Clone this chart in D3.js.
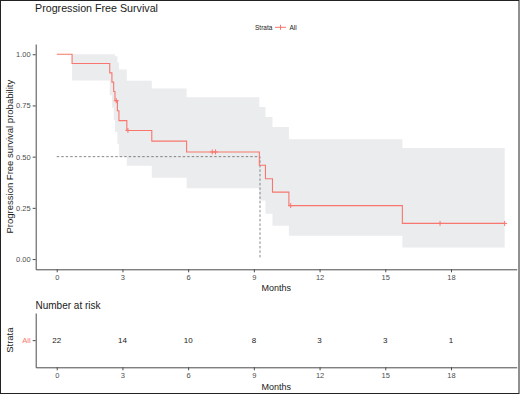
<!DOCTYPE html>
<html>
<head>
<meta charset="utf-8">
<script src="https://cdn.jsdelivr.net/npm/d3@7"></script>
<style>
  body { margin: 0; background: #fff; }
  svg text { font-family: "Liberation Sans", Arial, sans-serif; }
</style>
</head>
<body>
<div class="figure"></div>
<script>
// Kaplan-Meier steps (time in months)
const stepTimes = [0, 0.7, 2.42, 2.52, 2.60, 2.66, 2.77, 2.84, 3.20, 4.34, 5.93, 9.25, 9.53, 9.85, 10.6, 15.78, 20.45]
const stepSurv  = [1, 0.955, 0.909, 0.864, 0.818, 0.773, 0.724, 0.676, 0.628, 0.576, 0.523, 0.458, 0.392, 0.327, 0.261, 0.174, 0.174]
const stepUpper = [1, 1, 1, 1, 1, 0.99, 0.96, 0.925, 0.87, 0.833, 0.79, 0.743, 0.694, 0.645, 0.585, 0.542, 0.542]
const stepLower = [1, 0.872, 0.80, 0.74, 0.68, 0.62, 0.56, 0.50, 0.455, 0.397, 0.346, 0.286, 0.221, 0.163, 0.114, 0.057, 0.057]
const censorTimes = [2.72, 3.25, 7.1, 7.25, 10.68, 17.5, 20.45]
const medianTime = 9.28

const riskTimes = [0, 3, 6, 9, 12, 15, 18]
const riskCounts = [22, 14, 10, 8, 3, 3, 1]
const strata = ["All"]

const xTicks = [0, 3, 6, 9, 12, 15, 18]
const yTicks = [0, 0.25, 0.5, 0.75, 1]

const width = 521
const height = 395
const red = "#F8766D"
const axisColor = "#4a4a4a"
const tickText = "#4D4D4D"

const svg = d3.select(".figure").append("svg")
    .attr("width", width)
    .attr("height", height)

svg.append("rect")
    .attr("x", 0.5).attr("y", 0.5)
    .attr("width", 518.5).attr("height", 393)
    .attr("fill", "#fff")
    .attr("stroke", "#222")
    .attr("stroke-width", 1)

let x = d3.scaleLinear().domain([-0.96, 21]).range([35.7, 516.7])
let y = d3.scaleLinear().domain([-0.05, 1.05]).range([269.3, 44])

let steps = stepTimes.map((t, i) => ({t: t, s: stepSurv[i], up: stepUpper[i], lo: stepLower[i]}))

// title
svg.append("text")
    .attr("x", 35).attr("y", 11.7)
    .style("font-size", "10.7px")
    .attr("fill", "#1a1a1a")
    .text("Progression Free Survival")

// legend
let legend = svg.append("g").style("font-size", "6.5px").attr("fill", "#1a1a1a")
legend.append("text").attr("x", 255).attr("y", 29.6).text("Strata")
legend.append("line").attr("x1", 275).attr("x2", 286).attr("y1", 27.3).attr("y2", 27.3)
    .attr("stroke", red).attr("stroke-width", 1)
legend.append("path").attr("d", "M280.5,24.8V29.8").attr("stroke", red).attr("stroke-width", 1)
legend.append("text").attr("x", 289.5).attr("y", 29.6).text("All")

// confidence band
svg.append("path")
    .datum(steps)
    .attr("fill", "#EBECEE")
    .attr("d", d3.area()
        .x(d => x(d.t))
        .y0(d => y(d.lo))
        .y1(d => y(d.up))
        .curve(d3.curveStepAfter))

// median lines
svg.append("path")
    .attr("d", `M${x(0)},${y(0.5)}H${x(medianTime)}V${y(0)}`)
    .attr("fill", "none")
    .attr("stroke", "#555")
    .attr("stroke-width", 0.7)
    .attr("stroke-dasharray", "2.5,2")

// survival curve
svg.append("path")
    .datum(steps)
    .attr("fill", "none")
    .attr("stroke", red)
    .attr("stroke-width", 1.1)
    .attr("d", d3.line()
        .x(d => x(d.t))
        .y(d => y(d.s))
        .curve(d3.curveStepAfter))

// censor marks
function survAt(t) {
    let i = d3.bisectRight(stepTimes, t) - 1
    return stepSurv[i]
}
svg.append("g")
    .selectAll("path")
    .data(censorTimes)
    .join("path")
    .attr("d", d => `M${x(d) - 2.5},${y(survAt(d))}h5M${x(d)},${y(survAt(d)) - 2.5}v5`)
    .attr("stroke", red)
    .attr("stroke-width", 1)

// axes main
let xAxis = svg.append("g")
    .attr("transform", `translate(0,${y.range()[0]})`)
    .call(d3.axisBottom(x).tickValues(xTicks).tickSize(3).tickSizeOuter(0).tickPadding(2))
let yAxis = svg.append("g")
    .attr("transform", `translate(${x.range()[0]},0)`)
    .call(d3.axisLeft(y).tickValues(yTicks).tickFormat(d3.format(".2f")).tickSize(3).tickSizeOuter(0).tickPadding(2))

for (let ax of [xAxis, yAxis]) {
    ax.select(".domain").attr("stroke", axisColor)
    ax.selectAll(".tick line").attr("stroke", axisColor)
    ax.selectAll(".tick text").attr("fill", tickText).style("font-size", "7.5px")
        .style("font-family", "Liberation Sans, Arial, sans-serif")
}

svg.append("text")
    .attr("x", (x.range()[0] + x.range()[1]) / 2).attr("y", 291)
    .attr("text-anchor", "middle")
    .style("font-size", "9px")
    .attr("fill", "#1a1a1a")
    .text("Months")

svg.append("text")
    .attr("transform", `translate(12.5,${(y.range()[0] + y.range()[1]) / 2}) rotate(-90)`)
    .attr("text-anchor", "middle")
    .style("font-size", "9.5px")
    .attr("fill", "#1a1a1a")
    .text("Progression Free survival probability")

// risk table
svg.append("text")
    .attr("x", 35.5).attr("y", 309)
    .style("font-size", "10px")
    .attr("fill", "#1a1a1a")
    .text("Number at risk")

let yRisk = d3.scalePoint().domain(strata).range([367.3, 313]).padding(0.5)

svg.append("g")
    .selectAll("text")
    .data(riskTimes)
    .join("text")
    .attr("x", d => x(d))
    .attr("y", yRisk("All"))
    .attr("dy", "0.35em")
    .attr("text-anchor", "middle")
    .style("font-size", "8px")
    .attr("fill", "#1a1a1a")
    .text((d, i) => riskCounts[i])

let rxAxis = svg.append("g")
    .attr("transform", `translate(0,367.3)`)
    .call(d3.axisBottom(x).tickValues(xTicks).tickSize(3).tickSizeOuter(0).tickPadding(2))
let ryAxis = svg.append("g")
    .attr("transform", `translate(${x.range()[0]},0)`)
    .call(d3.axisLeft(yRisk).tickSize(3).tickSizeOuter(0).tickPadding(2))

for (let ax of [rxAxis, ryAxis]) {
    ax.select(".domain").attr("stroke", axisColor)
    ax.selectAll(".tick line").attr("stroke", axisColor)
    ax.selectAll(".tick text").attr("fill", tickText).style("font-size", "7.5px")
        .style("font-family", "Liberation Sans, Arial, sans-serif")
}
ryAxis.selectAll(".tick text").attr("fill", red)

svg.append("text")
    .attr("x", (x.range()[0] + x.range()[1]) / 2).attr("y", 390)
    .attr("text-anchor", "middle")
    .style("font-size", "9px")
    .attr("fill", "#1a1a1a")
    .text("Months")

svg.append("text")
    .attr("transform", `translate(12.5,${yRisk("All")}) rotate(-90)`)
    .attr("text-anchor", "middle")
    .style("font-size", "9.5px")
    .attr("fill", "#1a1a1a")
    .text("Strata")
</script>
</body>
</html>
